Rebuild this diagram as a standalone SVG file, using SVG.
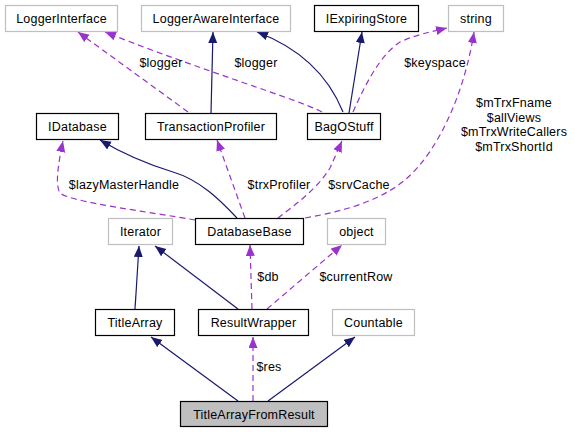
<svg xmlns="http://www.w3.org/2000/svg" width="575" height="432" viewBox="0 0 575 432">
<style>
text{font-family:"Liberation Sans",Arial,sans-serif;font-size:12.5px;letter-spacing:0.2px;fill:#000;text-anchor:middle}
.n{fill:#fff;stroke:#000;stroke-width:1.2}
.u{fill:#fff;stroke:#bfbfbf;stroke-width:1.2}
.t{fill:#bfbfbf;stroke:#000;stroke-width:1.2}
.s{fill:none;stroke:#191970;stroke-width:1.2}
.d{fill:none;stroke:#9a32cd;stroke-width:1.2;stroke-dasharray:6,4}
</style>
<defs>
<marker id="an" markerUnits="userSpaceOnUse" markerWidth="12" markerHeight="10" refX="11" refY="4.5" orient="auto"><path d="M0,0 L11,4.5 L0,9 Z" fill="#191970"/></marker>
<marker id="ap" markerUnits="userSpaceOnUse" markerWidth="12" markerHeight="10" refX="11" refY="4.5" orient="auto"><path d="M0,0 L11,4.5 L0,9 Z" fill="#9a32cd"/></marker>
</defs>
<rect width="575" height="432" fill="#fff"/>
<g id="edges">
<path class="s" marker-end="url(#an)" d="M238,401 L151,337"/>
<path class="d" marker-end="url(#ap)" d="M253,401 L253,337"/>
<path class="s" marker-end="url(#an)" d="M268,401 L355,337"/>
<path class="s" marker-end="url(#an)" d="M135,309 L139,246"/>
<path class="s" marker-end="url(#an)" d="M238,309 L155,246"/>
<path class="d" marker-end="url(#ap)" d="M252,309 L250,245"/>
<path class="d" marker-end="url(#ap)" d="M267,309 L342,245"/>
<path class="s" marker-end="url(#an)" d="M237,218 C220,200 200,180 173,172 C150,165 125,155 100,140"/>
<path class="d" marker-end="url(#ap)" d="M195,220 C150,212 70,202 60,193 C55,185 58,165 63,141"/>
<path class="d" marker-end="url(#ap)" d="M245,218 L217,140"/>
<path class="d" marker-end="url(#ap)" d="M278,218 C295,205 318,188 330,168 L342,141"/>
<path class="d" marker-end="url(#ap)" d="M305,218 C350,210 380,200 405,180 C440,150 465,90 474,32"/>
<path class="d" marker-end="url(#ap)" d="M188,112 L78,32"/>
<path class="d" marker-end="url(#ap)" d="M322,112 C300,100 200,70 105,32"/>
<path class="s" marker-end="url(#an)" d="M211,113 L213,32"/>
<path class="s" marker-end="url(#an)" d="M343,112 C330,80 305,50 257,32"/>
<path class="s" marker-end="url(#an)" d="M349,113 L362,32"/>
<path class="d" marker-end="url(#ap)" d="M353,112 C365,85 380,55 400,42 C415,35 430,32 447,28"/>
<text x="161" y="67">$logger</text>
<text x="256" y="67">$logger</text>
<text x="435" y="67">$keyspace</text>
<text x="124" y="189">$lazyMasterHandle</text>
<text x="279" y="189">$trxProfiler</text>
<text x="359" y="189">$srvCache</text>
<text x="514" y="107">$mTrxFname</text>
<text x="514" y="121.5">$allViews</text>
<text x="514" y="136">$mTrxWriteCallers</text>
<text x="514" y="150.5">$mTrxShortId</text>
<text x="268" y="281">$db</text>
<text x="356" y="281">$currentRow</text>
<text x="269" y="371">$res</text>
</g>
<g id="LoggerInterface"><rect class="u" x="5.5" y="5.5" width="112" height="26"/><text x="61.5" y="23">LoggerInterface</text></g>
<g id="LoggerAwareInterface"><rect class="u" x="141.5" y="5.5" width="149" height="26"/><text x="216" y="23">LoggerAwareInterface</text></g>
<g id="IExpiringStore"><rect class="n" x="314.5" y="5.5" width="104" height="26"/><text x="366.5" y="23">IExpiringStore</text></g>
<g id="string"><rect class="u" x="448.5" y="5.5" width="55" height="26"/><text x="476" y="23">string</text></g>
<g id="IDatabase"><rect class="n" x="36.5" y="113.5" width="82" height="26"/><text x="77.5" y="131">IDatabase</text></g>
<g id="TransactionProfiler"><rect class="n" x="145.5" y="113.5" width="131" height="26"/><text x="211" y="131">TransactionProfiler</text></g>
<g id="BagOStuff"><rect class="n" x="307.5" y="113.5" width="73" height="26"/><text x="344" y="131">BagOStuff</text></g>
<g id="Iterator"><rect class="u" x="108.5" y="218.5" width="64" height="26"/><text x="140.5" y="236">Iterator</text></g>
<g id="DatabaseBase"><rect class="n" x="195.5" y="218.5" width="108" height="26"/><text x="249.5" y="236">DatabaseBase</text></g>
<g id="object"><rect class="u" x="327.5" y="218.5" width="58" height="26"/><text x="356.5" y="236">object</text></g>
<g id="TitleArray"><rect class="n" x="95.5" y="309.5" width="79" height="26"/><text x="135" y="327">TitleArray</text></g>
<g id="ResultWrapper"><rect class="n" x="198.5" y="309.5" width="110" height="26"/><text x="253.5" y="327">ResultWrapper</text></g>
<g id="Countable"><rect class="u" x="332.5" y="309.5" width="82" height="26"/><text x="373.5" y="327">Countable</text></g>
<g id="TitleArrayFromResult"><rect class="t" x="180.5" y="401.5" width="147" height="25"/><text x="254" y="418.5">TitleArrayFromResult</text></g>
</svg>
